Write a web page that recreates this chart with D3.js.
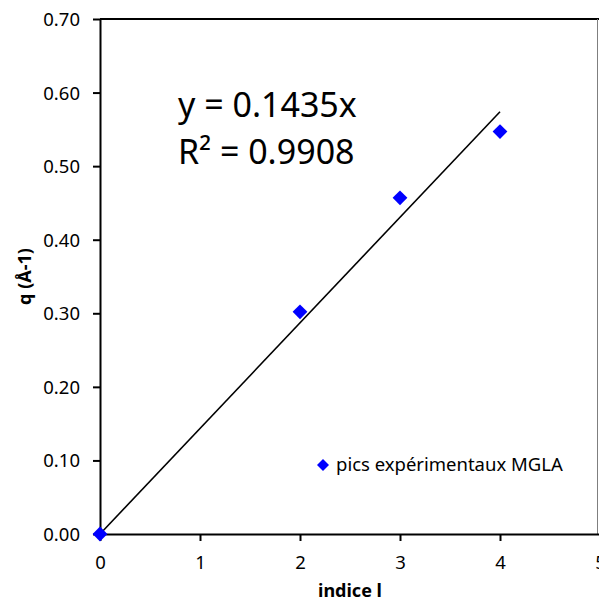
<!DOCTYPE html>
<html>
<head>
<meta charset="utf-8">
<script src="https://cdn.jsdelivr.net/npm/d3@7"></script>
<style>
  html, body { margin: 0; padding: 0; background: #fff; }
  svg { display: block; }
  text { font-family: "Noto Sans", "Open Sans", sans-serif; fill: #000; }
</style>
</head>
<body>
<svg id="chart" width="599" height="604"></svg>
<script>
// ---- data ----
const indices = [0, 2, 3, 4];
const qValues = [0.000, 0.302, 0.457, 0.547];
const trendX = [0, 4];
const trendY = [0, 0.574];
const xTicks = [0, 1, 2, 3, 4, 5];
const yTicks = [0, 0.1, 0.2, 0.3, 0.4, 0.5, 0.6, 0.7];
const seriesName = "pics expérimentaux MGLA";
const eqLines = ["y = 0.1435x", "R² = 0.9908"];
const xTitle = "indice l";
const yTitle = "q (Å-1)";

// ---- layout ----
const mLeft = 100, mRight = 600, mTop = 19, mBottom = 534;
const svg = d3.select("#chart");
const x = d3.scaleLinear().domain([0, 5]).range([mLeft, mRight]);
const y = d3.scaleLinear().domain([0, 0.7]).range([mBottom, mTop]);

// plot border (top & right)
svg.append("line").attr("x1", mLeft).attr("x2", mRight).attr("y1", mTop).attr("y2", mTop)
  .attr("stroke", "#000").attr("stroke-width", 2);
svg.append("line").attr("x1", 597.5).attr("x2", 597.5).attr("y1", mTop).attr("y2", mBottom)
  .attr("stroke", "#7f7f7f").attr("stroke-width", 1);

// axes
const yAxis = d3.axisLeft(y).tickValues(yTicks).tickFormat(d3.format(".2f")).tickSize(7).tickSizeOuter(0);
const gy = svg.append("g").attr("transform", `translate(${mLeft},0)`).call(yAxis);
gy.select(".domain").attr("stroke", "#000").attr("stroke-width", 2);
gy.selectAll(".tick line").attr("stroke", "#000").attr("stroke-width", 2);
gy.selectAll(".tick text").attr("x", -20).attr("dy", "0.35em")
  .style("font-size", "18.5px").style("font-family", "'Noto Sans', sans-serif").attr("fill", "#000");

const xAxis = d3.axisBottom(x).tickValues(xTicks).tickFormat(d3.format("d")).tickSize(7).tickSizeOuter(0);
const gx = svg.append("g").attr("transform", `translate(0,${mBottom})`).call(xAxis);
gx.select(".domain").attr("stroke", "#000").attr("stroke-width", 2);
gx.selectAll(".tick line").attr("stroke", "#000").attr("stroke-width", 2);
gx.selectAll(".tick text").attr("y", 29).attr("dy", "0.35em")
  .style("font-size", "18.5px").style("font-family", "'Noto Sans', sans-serif").attr("fill", "#000");

// trendline
svg.append("line")
  .attr("x1", x(trendX[0])).attr("y1", y(trendY[0]))
  .attr("x2", x(trendX[1])).attr("y2", y(trendY[1]))
  .attr("stroke", "#000").attr("stroke-width", 1.6);

// points (diamonds)
const pts = indices.map((d, i) => ({ x: d, y: qValues[i] }));
const r = 7.4;
svg.append("g").selectAll("path").data(pts).join("path")
  .attr("d", d => {
    const cx = x(d.x), cy = y(d.y);
    return `M${cx},${cy - r}L${cx + r},${cy}L${cx},${cy + r}L${cx - r},${cy}Z`;
  })
  .attr("fill", "#0000ff");

// equation
svg.append("g").selectAll("text").data(eqLines).join("text")
  .attr("x", 178).attr("y", (d, i) => 116.5 + i * 47.5)
  .style("font-size", "34px")
  .text(d => d);

// legend
const lr = 6;
const lx = 323, ly = 465;
svg.append("path")
  .attr("d", `M${lx},${ly - lr}L${lx + lr},${ly}L${lx},${ly + lr}L${lx - lr},${ly}Z`)
  .attr("fill", "#0000ff");
svg.append("text").attr("x", 336).attr("y", ly).attr("dy", "0.35em")
  .style("font-size", "18.5px").text(seriesName);

// axis titles
svg.append("text").attr("x", (mLeft + mRight) / 2).attr("y", 591).attr("dy", "0.35em")
  .attr("text-anchor", "middle").style("font-size", "18px").style("font-weight", "bold").text(xTitle);
svg.append("text").attr("transform", `translate(25,${(mTop + mBottom) / 2}) rotate(-90)`)
  .attr("dy", "0.35em").attr("text-anchor", "middle")
  .style("font-size", "18px").style("font-weight", "bold").text(yTitle);
</script>
</body>
</html>
